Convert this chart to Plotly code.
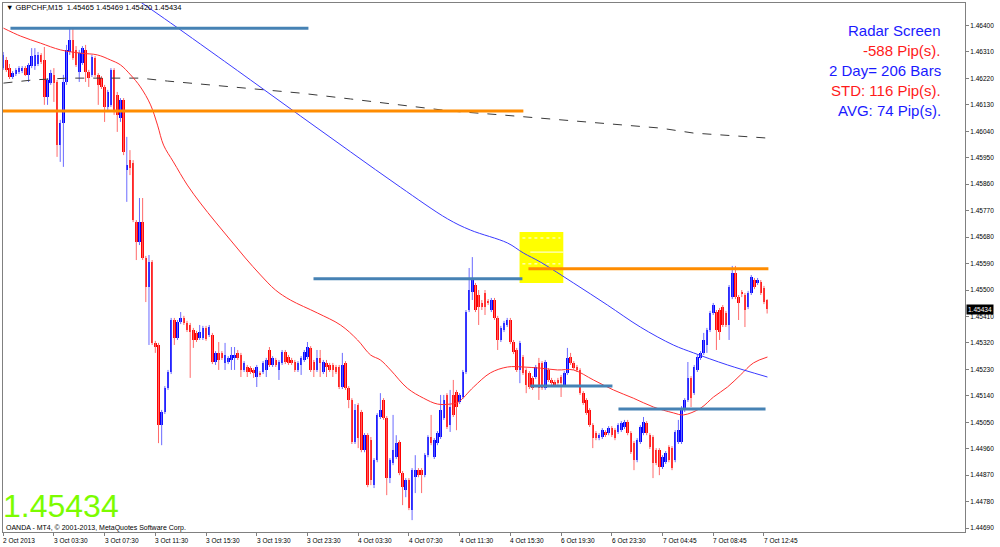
import plotly.graph_objects as go

# ---------------- data (GBPCHF M15) ----------------
opens = [
 1.46255,1.46283,1.46255,1.46225,1.46235,1.46242,1.46245,1.46255,1.46232,1.46262,
 1.46262,1.46269,1.46300,1.46283,1.46157,1.46204,1.46232,1.46208,1.45993,1.46068,
 1.46208,1.46310,1.46351,1.46317,1.46242,1.46272,1.46317,1.46242,1.46232,1.46289,
 1.46232,1.46221,1.46191,1.46123,1.46130,1.46249,1.46164,1.46085,1.46147,1.45908,
 1.45942,1.45932,1.45731,1.45663,1.45731,1.45609,1.45510,1.45595,1.45320,1.45313,
 1.45040,1.45085,1.45166,1.45221,1.45398,1.45337,1.45391,1.45405,1.45388,1.45381,
 1.45364,1.45354,1.45337,1.45337,1.45371,1.45347,1.45347,1.45255,1.45286,1.45286,
 1.45252,1.45255,1.45262,1.45269,1.45286,1.45279,1.45228,1.45238,1.45234,1.45228,
 1.45204,1.45218,1.45221,1.45228,1.45296,1.45245,1.45262,1.45228,1.45252,1.45289,
 1.45272,1.45262,1.45255,1.45228,1.45245,1.45262,1.45272,1.45303,1.45255,1.45228,
 1.45269,1.45221,1.45252,1.45245,1.45245,1.45238,1.45238,1.45170,1.45252,1.45166,
 1.45126,1.44983,1.45109,1.45085,1.44955,1.45006,1.44989,1.44836,1.44921,1.45068,
 1.45126,1.45064,1.44860,1.44911,1.44931,1.44983,1.44877,1.44819,1.44853,1.44751,
 1.44863,1.44887,1.44887,1.44870,1.44938,1.45000,1.44931,1.44979,1.45000,1.45064,
 1.45143,1.45040,1.45143,1.45153,1.45119,1.45136,1.45221,1.45432,1.45493,1.45517,
 1.45483,1.45456,1.45490,1.45463,1.45432,1.45466,1.45405,1.45330,1.45364,1.45381,
 1.45398,1.45323,1.45296,1.45228,1.45272,1.45228,1.45218,1.45201,1.45204,1.45252,
 1.45252,1.45166,1.45228,1.45194,1.45187,1.45194,1.45204,1.45177,1.45218,1.45272,
 1.45252,1.45238,1.45228,1.45149,1.45126,1.45092,1.45040,1.45013,1.44996,1.45000,
 1.45017,1.45013,1.45030,1.45023,1.45017,1.45023,1.45034,1.45051,1.45013,1.44979,
 1.44921,1.44983,1.45013,1.45047,1.45006,1.45000,1.44955,1.44955,1.44897,1.44914,
 1.44966,1.44962,1.44921,1.44983,1.44983,1.45092,1.45126,1.45201,1.45149,1.45228,
 1.45269,1.45286,1.45313,1.45364,1.45422,1.45425,1.45432,1.45442,1.45422,1.45381,
 1.45476,1.45558,1.45476,1.45493,1.45483,1.45442,1.45490,1.45534,1.45524,1.45527,
 1.45507,1.45465,
]
highs = [
 1.46310,1.46293,1.46269,1.46245,1.46255,1.46262,1.46262,1.46262,1.46272,1.46323,
 1.46323,1.46310,1.46306,1.46327,1.46221,1.46249,1.46255,1.46215,1.46079,1.46232,
 1.46334,1.46391,1.46391,1.46330,1.46317,1.46330,1.46334,1.46249,1.46300,1.46296,
 1.46238,1.46228,1.46198,1.46181,1.46255,1.46255,1.46174,1.46153,1.46153,1.46021,
 1.45976,1.45942,1.45738,1.45813,1.45813,1.45616,1.45619,1.45602,1.45327,1.45320,
 1.45092,1.45173,1.45228,1.45405,1.45405,1.45398,1.45425,1.45412,1.45395,1.45388,
 1.45371,1.45361,1.45381,1.45378,1.45378,1.45381,1.45354,1.45292,1.45323,1.45292,
 1.45320,1.45275,1.45306,1.45306,1.45296,1.45286,1.45258,1.45245,1.45241,1.45234,
 1.45245,1.45224,1.45258,1.45269,1.45306,1.45275,1.45269,1.45262,1.45296,1.45296,
 1.45279,1.45269,1.45262,1.45258,1.45275,1.45296,1.45323,1.45309,1.45262,1.45296,
 1.45296,1.45262,1.45262,1.45252,1.45252,1.45245,1.45245,1.45286,1.45258,1.45173,
 1.45132,1.45112,1.45115,1.45092,1.45013,1.45013,1.45000,1.44928,1.45081,1.45149,
 1.45132,1.45071,1.44928,1.45075,1.45006,1.44989,1.44884,1.44860,1.44860,1.44894,
 1.44938,1.44894,1.44894,1.44945,1.45006,1.45075,1.44996,1.45020,1.45143,1.45143,
 1.45149,1.45160,1.45194,1.45160,1.45149,1.45228,1.45432,1.45575,1.45612,1.45524,
 1.45500,1.45466,1.45500,1.45469,1.45473,1.45473,1.45412,1.45378,1.45395,1.45405,
 1.45405,1.45330,1.45303,1.45327,1.45279,1.45234,1.45224,1.45207,1.45245,1.45269,
 1.45258,1.45262,1.45234,1.45201,1.45194,1.45201,1.45211,1.45224,1.45303,1.45286,
 1.45258,1.45245,1.45234,1.45156,1.45132,1.45098,1.45047,1.45020,1.45013,1.45030,
 1.45023,1.45037,1.45037,1.45030,1.45047,1.45054,1.45058,1.45058,1.45020,1.44986,
 1.44996,1.45040,1.45068,1.45054,1.45013,1.45006,1.44962,1.44962,1.44938,1.44952,
 1.44972,1.44969,1.45023,1.45058,1.45105,1.45132,1.45255,1.45207,1.45245,1.45279,
 1.45292,1.45354,1.45371,1.45429,1.45456,1.45432,1.45439,1.45449,1.45429,1.45517,
 1.45582,1.45582,1.45483,1.45500,1.45490,1.45497,1.45551,1.45541,1.45541,1.45534,
 1.45514,1.45469,
]
lows = [
 1.46249,1.46242,1.46218,1.46218,1.46228,1.46235,1.46238,1.46228,1.46208,1.46255,
 1.46249,1.46262,1.46269,1.46130,1.46130,1.46198,1.46140,1.45953,1.45936,1.45919,
 1.46198,1.46300,1.46283,1.46259,1.46208,1.46266,1.46208,1.46191,1.46225,1.46225,
 1.46130,1.46184,1.46072,1.46113,1.46123,1.46096,1.46038,1.46072,1.45959,1.45800,
 1.45891,1.45731,1.45602,1.45653,1.45602,1.45459,1.45313,1.45313,1.45286,1.44979,
 1.44972,1.45078,1.45160,1.45214,1.45313,1.45330,1.45384,1.45381,1.45357,1.45201,
 1.45303,1.45323,1.45330,1.45330,1.45327,1.45340,1.45248,1.45245,1.45228,1.45262,
 1.45228,1.45248,1.45228,1.45228,1.45262,1.45204,1.45221,1.45204,1.45214,1.45201,
 1.45170,1.45204,1.45214,1.45204,1.45238,1.45238,1.45238,1.45194,1.45245,1.45248,
 1.45245,1.45245,1.45221,1.45221,1.45211,1.45255,1.45265,1.45221,1.45204,1.45221,
 1.45204,1.45214,1.45204,1.45221,1.45204,1.45214,1.45163,1.45163,1.45160,1.45098,
 1.44976,1.44976,1.44962,1.44948,1.44948,1.44829,1.44836,1.44826,1.44914,1.45061,
 1.45058,1.44802,1.44843,1.44904,1.44925,1.44870,1.44768,1.44795,1.44751,1.44717,
 1.44809,1.44863,1.44809,1.44863,1.44931,1.44972,1.44925,1.44972,1.44993,1.45058,
 1.45027,1.45017,1.45068,1.45023,1.45112,1.45129,1.45214,1.45425,1.45466,1.45425,
 1.45381,1.45432,1.45415,1.45449,1.45425,1.45398,1.45296,1.45323,1.45357,1.45374,
 1.45316,1.45282,1.45221,1.45183,1.45211,1.45149,1.45163,1.45160,1.45197,1.45126,
 1.45160,1.45160,1.45187,1.45177,1.45170,1.45177,1.45136,1.45170,1.45211,1.45245,
 1.45228,1.45221,1.45143,1.45109,1.45075,1.45034,1.44962,1.44989,1.44989,1.44993,
 1.45000,1.45006,1.45000,1.44989,1.45010,1.45017,1.45027,1.45006,1.44942,1.44887,
 1.44914,1.44976,1.45006,1.45006,1.44959,1.44860,1.44904,1.44870,1.44891,1.44908,
 1.44914,1.44887,1.44914,1.44976,1.44976,1.45085,1.45119,1.45102,1.45143,1.45221,
 1.45262,1.45279,1.45286,1.45357,1.45415,1.45296,1.45330,1.45374,1.45374,1.45330,
 1.45469,1.45469,1.45398,1.45476,1.45374,1.45435,1.45483,1.45503,1.45517,1.45483,
 1.45452,1.45420,
]
closes = [
 1.46300,1.46249,1.46225,1.46238,1.46249,1.46255,1.46255,1.46232,1.46266,1.46296,
 1.46300,1.46300,1.46276,1.46157,1.46215,1.46238,1.46204,1.45993,1.46068,1.46208,
 1.46317,1.46351,1.46289,1.46266,1.46306,1.46323,1.46242,1.46221,1.46293,1.46232,
 1.46198,1.46191,1.46123,1.46174,1.46249,1.46106,1.46096,1.46147,1.45970,1.45925,
 1.45915,1.45738,1.45663,1.45731,1.45609,1.45510,1.45595,1.45320,1.45306,1.45040,
 1.45085,1.45166,1.45221,1.45398,1.45337,1.45391,1.45405,1.45388,1.45364,1.45357,
 1.45330,1.45330,1.45357,1.45371,1.45333,1.45374,1.45255,1.45286,1.45262,1.45269,
 1.45279,1.45269,1.45279,1.45279,1.45269,1.45228,1.45252,1.45221,1.45221,1.45218,
 1.45238,1.45211,1.45252,1.45262,1.45245,1.45269,1.45245,1.45255,1.45289,1.45255,
 1.45252,1.45252,1.45228,1.45252,1.45269,1.45289,1.45306,1.45228,1.45228,1.45269,
 1.45252,1.45255,1.45238,1.45228,1.45228,1.45221,1.45170,1.45245,1.45166,1.45126,
 1.44983,1.45092,1.44996,1.44955,1.45006,1.44836,1.44853,1.44921,1.45075,1.45092,
 1.45064,1.44860,1.44921,1.44955,1.44979,1.44877,1.44829,1.44853,1.44758,1.44887,
 1.44887,1.44870,1.44870,1.44938,1.45000,1.44979,1.44989,1.45013,1.45092,1.45126,
 1.45034,1.45102,1.45075,1.45102,1.45143,1.45221,1.45425,1.45500,1.45541,1.45432,
 1.45442,1.45442,1.45442,1.45456,1.45466,1.45405,1.45330,1.45371,1.45388,1.45398,
 1.45323,1.45289,1.45228,1.45320,1.45218,1.45177,1.45170,1.45166,1.45238,1.45166,
 1.45166,1.45255,1.45194,1.45183,1.45177,1.45183,1.45183,1.45218,1.45269,1.45252,
 1.45234,1.45228,1.45149,1.45115,1.45081,1.45040,1.44996,1.44996,1.45006,1.45023,
 1.45006,1.45030,1.45006,1.44996,1.45040,1.45047,1.45051,1.45013,1.44948,1.44921,
 1.44989,1.45034,1.45051,1.45013,1.44966,1.44911,1.44911,1.44897,1.44931,1.44945,
 1.44921,1.44894,1.45017,1.45023,1.45098,1.45126,1.45201,1.45132,1.45238,1.45272,
 1.45286,1.45330,1.45364,1.45422,1.45449,1.45364,1.45357,1.45381,1.45381,1.45510,
 1.45558,1.45476,1.45456,1.45486,1.45432,1.45490,1.45544,1.45510,1.45534,1.45490,
 1.45459,1.45434,
]

# time-axis labels (every 16 bars)
time_tick_bars = [0, 16, 32, 48, 64, 80, 96, 112, 128, 144, 160, 176, 192, 208, 224, 240]
time_tick_labels = ["2 Oct 2013", "3 Oct 03:30", "3 Oct 07:30", "3 Oct 11:30", "3 Oct 15:30",
                    "3 Oct 19:30", "3 Oct 23:30", "4 Oct 03:30", "4 Oct 07:30", "4 Oct 11:30",
                    "4 Oct 15:30", "6 Oct 19:30", "6 Oct 23:30", "7 Oct 04:45", "7 Oct 08:45",
                    "7 Oct 12:45"]
price_ticks = [1.46400, 1.46310, 1.46220, 1.46130, 1.46040, 1.45950, 1.45860, 1.45770,
               1.45680, 1.45590, 1.45500, 1.45410, 1.45320, 1.45230, 1.45140, 1.45050,
               1.44960, 1.44870, 1.44780, 1.44690]

# moving averages (sampled along the drawn lines): bar position, price
ma_red_x = [0.1, 5.5, 11.8, 18.1, 24.4, 29.7, 33.8, 37.0, 40.2, 43.3, 46.5, 48.7, 50.6, 53.7,
            58.1, 62.2, 67.0, 71.7, 76.4, 81.2, 85.9, 90.6, 99.1, 106.4, 111.8, 115.9, 119.0,
            122.2, 127.5, 132.6, 137.0, 141.1, 143.6, 148.4, 153.7, 159.1, 164.1, 169.5, 174.9,
            179.9, 186.2, 192.5, 198.8, 205.1, 211.4, 214.6, 220.0, 224.1, 228.5, 232.6, 236.7,
            241.1]
ma_red_y = [1.46391, 1.46364, 1.46340, 1.46317, 1.46306, 1.46300, 1.46283, 1.46266, 1.46232,
            1.46191, 1.46130, 1.46061, 1.45993, 1.45936, 1.45857, 1.45796, 1.45731, 1.45670,
            1.45609, 1.45551, 1.45500, 1.45466, 1.45422, 1.45381, 1.45330, 1.45279, 1.45262,
            1.45228, 1.45166, 1.45132, 1.45112, 1.45112, 1.45119, 1.45170, 1.45218, 1.45238,
            1.45238, 1.45234, 1.45228, 1.45228, 1.45194, 1.45160, 1.45132, 1.45102, 1.45082,
            1.45075, 1.45098, 1.45136, 1.45170, 1.45211, 1.45252, 1.45272]
ma_blue_x = [42.4, 52.8, 62.2, 78.0, 93.8, 109.6, 125.3, 140.2, 147.4, 159.1, 164.1, 169.5,
             179.9, 190.6, 201.0, 211.4, 217.8, 228.5, 241.1]
ma_blue_y = [1.46487, 1.46409, 1.46337, 1.46215, 1.46092, 1.45970, 1.45850, 1.45742, 1.45704,
             1.45660, 1.45626, 1.45595, 1.45524, 1.45449, 1.45374, 1.45313, 1.45286, 1.45245,
             1.45204]
ma_long_x = [0.1, 9.6, 20.3, 33.8, 43.3, 51.8, 62.2, 78.0, 93.8, 109.6, 125.3, 141.1, 156.9,
             172.6, 188.4, 207.3, 217.8, 228.5, 241.1]
ma_long_y = [1.46204, 1.46215, 1.46221, 1.46221, 1.46221, 1.46211, 1.46201, 1.46187, 1.46170,
             1.46150, 1.46130, 1.46109, 1.46096, 1.46082, 1.46068, 1.46051, 1.46034, 1.46027,
             1.46017]

# horizontal level objects
level_prices = [1.46391, 1.46109, 1.45538, 1.45572, 1.45173, 1.45095]
level_start = [2.3, -1.0, 97.9, 165.7, 166.3, 194.1]
level_end = [96.3, 164.1, 163.8, 241.4, 192.2, 240.5]
level_kind = ["support", "resist", "support", "resist", "support", "support"]

# yellow zone and its inner levels
zone_x = [162.9, 176.7]
zone_y = [1.45524, 1.45697]
zone_lines_y = [1.45677, 1.45629, 1.45589]
zone_lines_x0 = [163.8, 166.3, 163.8]
zone_lines_x1 = [175.8, 176.7, 175.8]
zone_lines_dash = ["dot", "solid", "dot"]

radar_lines = ["Radar Screen", "-588 Pip(s).", "2 Day= 206 Bars", "STD: 116 Pip(s).", "AVG: 74 Pip(s)."]
radar_colors = ["#1a1aff", "#ff1a1a", "#1a1aff", "#ff1a1a", "#1a1aff"]

# ---------------- figure ----------------
UP_BODY, DN_BODY = "#0000ff", "#ff0000"
UP_WICK, DN_WICK = "#6a6aff", "#ff6a6a"
LEVEL_COL = {"support": "#4682b4", "resist": "#ff8c00"}

n = len(closes)
up = [i for i in range(n) if closes[i] > opens[i]]
dn = [i for i in range(n) if closes[i] <= opens[i]]

fig = go.Figure()

def wick_trace(ids, color):
    xs, ys = [], []
    for i in ids:
        xs += [i, i, None]
        ys += [lows[i], highs[i], None]
    return go.Scatter(x=xs, y=ys, mode="lines", line=dict(color=color, width=1),
                      hoverinfo="skip")

fig.add_trace(wick_trace(up, UP_WICK))
fig.add_trace(wick_trace(dn, DN_WICK))

MIN_BODY = 0.00003
for ids, col in ((up, UP_BODY), (dn, DN_BODY)):
    fig.add_trace(go.Bar(
        x=ids,
        y=[max(abs(closes[i] - opens[i]), MIN_BODY) for i in ids],
        base=[min(opens[i], closes[i]) for i in ids],
        width=0.8, marker=dict(color=col, line=dict(width=0)),
    ))

fig.add_trace(go.Scatter(x=ma_long_x, y=ma_long_y, mode="lines",
                         line=dict(color="#3a3a3a", width=1, dash="dash")))
fig.add_trace(go.Scatter(x=ma_red_x, y=ma_red_y, mode="lines", line_shape="spline",
                         line=dict(color="#ff3030", width=1)))
fig.add_trace(go.Scatter(x=ma_blue_x, y=ma_blue_y, mode="lines", line_shape="spline",
                         line=dict(color="#3a3aff", width=1)))

for p, a, b, k in zip(level_prices, level_start, level_end, level_kind):
    fig.add_trace(go.Scatter(x=[a, b], y=[p, p], mode="lines",
                             line=dict(color=LEVEL_COL[k], width=3)))

shapes = [dict(type="rect", xref="x", yref="y", x0=zone_x[0], x1=zone_x[1],
               y0=zone_y[0], y1=zone_y[1], fillcolor="#ffff00", line=dict(width=0),
               layer="below")]
for y, a, b, d in zip(zone_lines_y, zone_lines_x0, zone_lines_x1, zone_lines_dash):
    shapes.append(dict(type="line", xref="x", yref="y", x0=a, x1=b, y0=y, y1=y,
                       line=dict(color="white", width=1, dash=d), layer="below"))

PL, PR, PT, PB = 3, 965, 3, 532
W, H = PR - PL, PB - PT
def px(xp):
    return (xp - PL) / W
def py(yp):
    return (PB - yp) / H

ann = []
ann.append(dict(xref="paper", yref="paper", x=px(4), y=py(8), xanchor="left", yanchor="middle",
                text="\u25bc GBPCHF,M15  1.45465 1.45469 1.45420 1.45434", showarrow=False,
                font=dict(family="Liberation Sans", size=7.5, color="black")))
for k, (t, c) in enumerate(zip(radar_lines, radar_colors)):
    ann.append(dict(xref="paper", yref="paper", x=px(943), y=py(31 + 19.8 * k),
                    xanchor="right", yanchor="middle", text=t, showarrow=False,
                    font=dict(family="Liberation Sans", size=15, color=c)))
ann.append(dict(xref="paper", yref="paper", x=px(1), y=py(506), xanchor="left",
                yanchor="middle", text=f"{closes[-1]:.5f}", showarrow=False,
                font=dict(family="Liberation Sans", size=32, color="#7cfc00")))
ann.append(dict(xref="paper", yref="paper", x=px(4), y=py(527.5), xanchor="left",
                yanchor="middle", text="OANDA - MT4, \u00a9 2001-2013, MetaQuotes Software Corp.",
                showarrow=False, font=dict(family="Liberation Sans", size=7, color="black")))
for b, t in zip(time_tick_bars, time_tick_labels):
    ann.append(dict(xref="x", yref="paper", x=b, y=py(540), xanchor="left", yanchor="middle",
                    xshift=-2, text=t, showarrow=False,
                    font=dict(family="Liberation Sans", size=6.5, color="black")))
ann.append(dict(xref="paper", yref="y", x=1, y=closes[-1], xanchor="left", yanchor="middle",
                xshift=1, text=f"{closes[-1]:.5f}", showarrow=False, bgcolor="black",
                borderpad=1, font=dict(family="Liberation Sans", size=6.5, color="white")))

x_lo = -0.05
fig.update_layout(
    width=1000, height=547,
    margin=dict(l=PL, r=1000 - PR, t=PT, b=547 - PB),
    paper_bgcolor="white", plot_bgcolor="white",
    showlegend=False, barmode="overlay", bargap=0,
    shapes=shapes, annotations=ann,
    xaxis=dict(range=[x_lo, x_lo + W / 3.17], showgrid=False, zeroline=False,
               tickmode="array", tickvals=time_tick_bars, ticktext=[""] * len(time_tick_bars),
               ticks="outside", ticklen=3, tickcolor="#808080",
               showline=True, linecolor="#808080", linewidth=1, mirror=True),
    yaxis=dict(side="right", range=[1.446766, 1.464766], showgrid=False, zeroline=False,
               tickmode="array", tickvals=price_ticks,
               ticktext=[f"{v:.5f}" for v in price_ticks],
               ticks="outside", ticklen=3, tickcolor="#808080",
               tickfont=dict(family="Liberation Sans", size=6.5, color="black"),
               showline=True, linecolor="#808080", linewidth=1, mirror=True),
)

fig.write_html("out.html", config={"displayModeBar": False},
               post_script="document.body.style.margin='0';document.body.style.overflow='hidden';")
